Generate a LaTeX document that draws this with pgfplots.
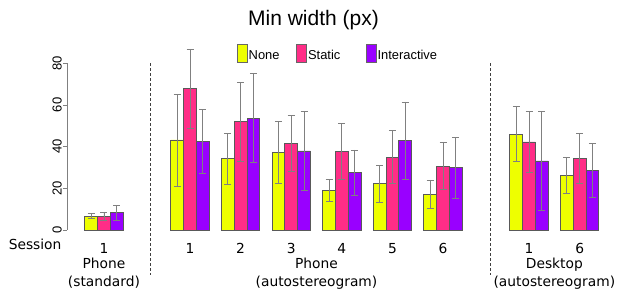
\documentclass[border=0pt]{standalone}
\usepackage{fontspec}
\setmainfont{DejaVu Sans}
\newfontfamily\arial{Liberation Sans}
\usepackage{pgfplots}
\usepackage{pgfplotstable}
\pgfplotsset{compat=1.18}
\definecolor{cNone}{RGB}{238,255,0}
\definecolor{cStatic}{RGB}{255,45,135}
\definecolor{cInter}{RGB}{153,0,255}
\pgfplotstableread{
x y hi lo
0 6.6 8.0 5.4
1.7 43.2 65.2 21.1
2.7 34.1 46.4 21.9
3.7 37.1 52.0 22.1
4.7 19.0 24.3 13.8
5.7 22.2 31.0 13.4
6.7 17.1 24.0 10.4
8.4 46.0 59.3 32.9
9.4 26.2 34.7 17.6
}\tnone
\pgfplotstableread{
x y hi lo
0 6.4 8.6 4.7
1.7 67.8 86.8 48.8
2.7 52.0 70.7 32.9
3.7 41.6 55.0 28.3
4.7 37.7 51.2 24.3
5.7 34.9 47.8 22.4
6.7 30.5 42.2 19.5
8.4 42.2 56.9 27.7
9.4 34.4 46.4 22.4
}\tstatic
\pgfplotstableread{
x y hi lo
0 8.3 11.8 4.8
1.7 42.4 57.6 27.2
2.7 53.7 75.1 32.5
3.7 37.9 56.7 19.0
4.7 27.5 38.4 16.6
5.7 42.8 61.4 24.3
6.7 29.9 44.4 15.2
8.4 33.1 56.9 9.4
9.4 28.5 41.6 15.5
}\tinter
\begin{document}
\begin{tikzpicture}
\begin{axis}[
  x=50.6pt, y=2.085pt,
  xmin=-0.731, xmax=10, ymin=0, ymax=90,
  clip=false,
  axis lines=left,
  x axis line style={draw=none},
  y axis line style={draw=none},
  ybar=0pt, bar width=12.8pt,
  xtick={0,1.7,2.7,3.7,4.7,5.7,6.7,8.4,9.4},
  xticklabels={1,1,2,3,4,5,6,1,6},
  x tick style={draw=none},
  x tick label style={anchor=base, yshift=-19.7pt, inner sep=0pt, font=\fontsize{13.8}{16}\selectfont},
  ytick={0,20,40,60,80},
  y tick style={gray, line width=0.6pt},
  tick align=outside,
  major tick length=4pt,
  y tick label style={rotate=90, anchor=south, inner sep=1pt, font=\arial\fontsize{13}{14}\selectfont},
  /pgf/number format/assume math mode=true,
  legend columns=3,
  legend style={draw=none, fill=none, inner sep=0pt, column sep=0pt,
    at={(axis cs:2.6225,84.86)}, anchor=west,
    nodes={inner xsep=1pt, inner ysep=0pt},
    font=\arial\fontsize{12.9}{14}\selectfont},
  legend image code/.code={\draw[#1, draw=gray!80!black, line width=0.8pt] (0pt,-6.5pt) rectangle (10pt,11.5pt);},
  error bars/error bar style={gray, line width=0.8pt},
  error bars/error mark options={rotate=90, mark size=3.5pt, gray, line width=0.8pt},
]
\addplot[fill=cNone, draw=gray!70!black, line width=0.8pt,
  error bars/.cd, y dir=both, y explicit]
  table[x=x, y=y, y error plus expr=\thisrow{hi}-\thisrow{y}, y error minus expr=\thisrow{y}-\thisrow{lo}] {\tnone};
\addlegendentry{\makebox[46.6pt][l]{None}}
\addplot[fill=cStatic, draw=gray!70!black, line width=0.8pt,
  error bars/.cd, y dir=both, y explicit]
  table[x=x, y=y, y error plus expr=\thisrow{hi}-\thisrow{y}, y error minus expr=\thisrow{y}-\thisrow{lo}] {\tstatic};
\addlegendentry{\makebox[56.7pt][l]{Static}}
\addplot[fill=cInter, draw=gray!70!black, line width=0.8pt,
  error bars/.cd, y dir=both, y explicit]
  table[x=x, y=y, y error plus expr=\thisrow{hi}-\thisrow{y}, y error minus expr=\thisrow{y}-\thisrow{lo}] {\tinter};
\addlegendentry{Interactive}
\draw[gray, line width=0.6pt] (axis cs:-0.731,0) -- (axis cs:-0.731,80);
\draw[black!75, line width=0.6pt, dash pattern=on 2.5pt off 2.5pt] (axis cs:0.909,80) -- (axis cs:0.909,-21.6);
\draw[black!75, line width=0.6pt, dash pattern=on 2.5pt off 2.5pt] (axis cs:7.63,80) -- (axis cs:7.63,-21.6);
\node[font=\arial\fontsize{21}{24}\selectfont] at (axis cs:4.14,100.7) {Min width (px)};
\node[anchor=base east, inner sep=0pt, font=\fontsize{13.8}{16}\selectfont] at (axis cs:-0.8373,-9.45) {Session};
\node[anchor=base, inner sep=0pt, font=\fontsize{13.8}{16}\selectfont] at (axis cs:0,-18.46) {Phone};
\node[anchor=base, inner sep=0pt, font=\fontsize{13.8}{16}\selectfont] at (axis cs:0,-26.95) {(standard)};
\node[anchor=base, inner sep=0pt, font=\fontsize{13.8}{16}\selectfont] at (axis cs:4.2,-18.46) {Phone};
\node[anchor=base, inner sep=0pt, font=\fontsize{13.8}{16}\selectfont] at (axis cs:4.2,-26.95) {(autostereogram)};
\node[anchor=base, inner sep=0pt, font=\fontsize{13.8}{16}\selectfont] at (axis cs:8.9,-18.46) {Desktop};
\node[anchor=base, inner sep=0pt, font=\fontsize{13.8}{16}\selectfont] at (axis cs:8.9,-26.95) {(autostereogram)};
\coordinate (BL) at (axis cs:-2.055,-29.7);
\coordinate (TR) at (axis cs:10.138,110.3);
\end{axis}
\pgfresetboundingbox
\path[use as bounding box] (BL) rectangle (TR);
\end{tikzpicture}
\end{document}
